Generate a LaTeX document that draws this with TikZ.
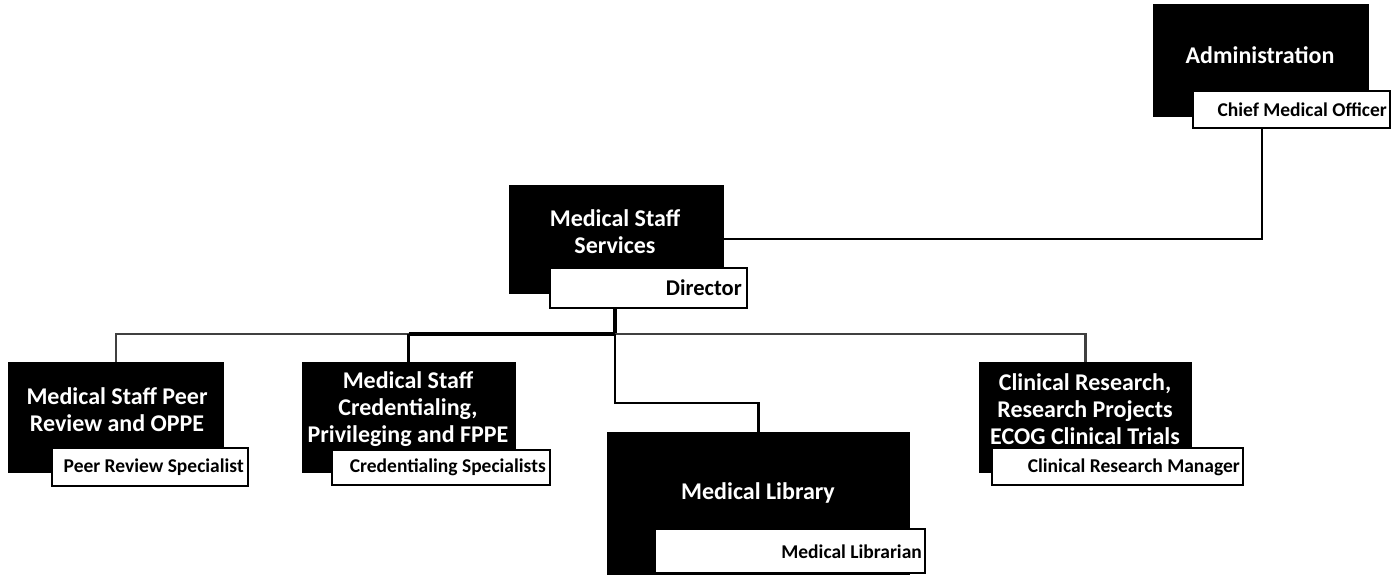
\documentclass[tikz,border=0pt]{standalone}
\usepackage{fontspec}
\setmainfont{Carlito}
\begin{document}
\begin{tikzpicture}[x=1pt,y=-1pt,
  blk/.style={fill=black,draw=black,line width=1pt,inner sep=0pt,anchor=center},
  wht/.style={fill=white,draw=black,line width=2.2pt,inner sep=0pt,anchor=center},
  ttl/.style={text=white,font=\bfseries\fontsize{24}{27}\selectfont,align=center,inner sep=0pt},
  sub/.style={font=\bfseries\fontsize{19.5}{21}\selectfont,anchor=east,inner sep=0pt},
  con/.style={line width=2.6pt,line join=miter}]
\useasboundingbox (0,0) rectangle (1391,575);

% Administration
\node[blk,minimum width=215pt,minimum height=112pt] (adm) at (1260.5,61) {};
\node[ttl] (admt) at (1260,55) {Administration};
\node[wht,minimum width=197pt,minimum height=37pt] (cmo) at (1291.5,109.5) {};
\node[sub] (cmot) at (1387,110) {Chief Medical Officer};

% Medical Staff Services
\node[blk,minimum width=214pt,minimum height=108pt] (mss) at (616,239) {};
\node[ttl] (msst) at (615,232) {Medical Staff\\Services};
\node[wht,minimum width=197pt,minimum height=40pt] (dir) at (648.5,288) {};
\node[sub,font=\bfseries\fontsize{22.5}{24}\selectfont] (dirt) at (742,288) {Director};

% Peer review
\node[blk,minimum width=215pt,minimum height=110pt] (peer) at (116,417) {};
\node[ttl] (peert) at (117,410) {Medical Staff Peer\\Review and OPPE};
\node[wht,minimum width=196pt,minimum height=38pt] (peerw) at (150,467) {};
\node[sub] (peerwt) at (244,467) {Peer Review Specialist};

% Credentialing
\node[blk,minimum width=213pt,minimum height=110pt] (cred) at (408.5,417) {};
\node[ttl] (credt) at (408,409.5) {Medical Staff\\Credentialing,\\Privileging and FPPE};
\node[wht,minimum width=218pt,minimum height=35pt] (credw) at (441,467.5) {};
\node[sub] (credwt) at (546,467.5) {Credentialing Specialists};

% Medical Library
\node[blk,minimum width=302pt,minimum height=142pt] (lib) at (758.5,503) {};
\node[ttl] (libt) at (758,493) {Medical Library};
\node[wht,minimum width=270pt,minimum height=44pt] (libw) at (790,551) {};
\node[sub] (libwt) at (922,552) {Medical Librarian};

% Clinical research
\node[blk,minimum width=212pt,minimum height=110pt] (clin) at (1085.5,417) {};
\node[ttl] (clint) at (1085,409) {Clinical Research,\\Research Projects\\ECOG Clinical Trials};
\node[wht,minimum width=251pt,minimum height=37pt] (clinw) at (1117.5,466.5) {};
\node[sub] (clinwt) at (1240,467) {Clinical Research Manager};

% Connectors
\coordinate (c1) at (1262,0);
\coordinate (hub) at (615,334);
\coordinate (bend) at (615,403);
\draw[con] (c1 |- cmo.south) |- (mss.east);
\draw[con,line width=3.2pt] (dir.south -| hub) -- (hub);
\draw[con,line width=2.4pt,black!75] (peer.north) |- (cred.north |- hub);
\draw[con,line width=3.4pt] (cred.north |- hub) -- (hub);
\draw[con,line width=2.4pt,black!75] (hub) -| (clin.north);
\draw[con] (cred.north |- hub) -- (cred.north);
\draw[con] (hub) -- (bend) -| (lib.north);
\end{tikzpicture}
\end{document}
